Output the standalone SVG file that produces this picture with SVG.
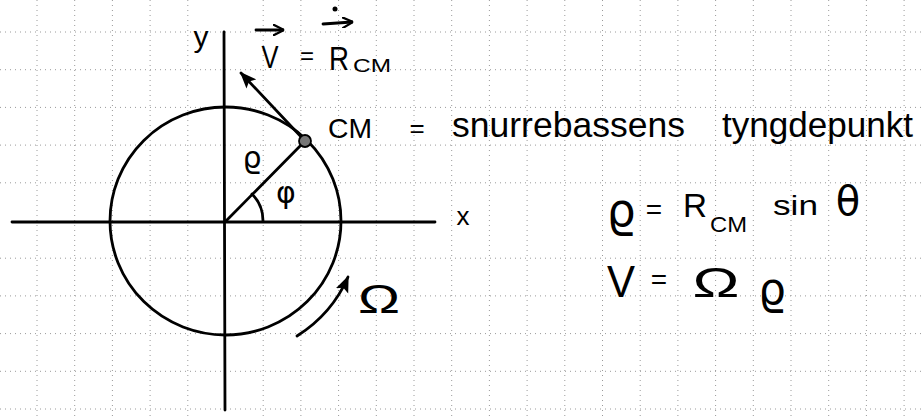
<svg xmlns="http://www.w3.org/2000/svg" width="922" height="416" viewBox="0 0 922 416">
<defs>
<style>
.grid line{stroke:#9a9a9a;stroke-width:1;stroke-dasharray:1 4}
.ln{stroke:#000;stroke-width:2.8;fill:none;stroke-linecap:round}
.t{font-family:"Liberation Sans","DejaVu Sans",sans-serif;fill:#000}
.g{font-family:"DejaVu Sans","Liberation Sans",sans-serif;fill:#000}
</style>
<marker id="ah" viewBox="0 0 10 10" refX="9" refY="5" markerWidth="6" markerHeight="6" orient="auto" markerUnits="strokeWidth">
<path d="M0,1 L10,5 L0,9 L2,5 Z" fill="#000"/>
</marker>
<marker id="sh" viewBox="0 0 10 10" refX="9" refY="5" markerWidth="4" markerHeight="4" orient="auto" markerUnits="strokeWidth">
<path d="M0,0 L10,5 L0,10" fill="none" stroke="#000" stroke-width="2"/>
</marker>
</defs>
<rect width="922" height="416" fill="#fff"/>
<g class="grid">
<line x1="37" y1="0" x2="37" y2="416"/><line x1="74.7" y1="0" x2="74.7" y2="416"/><line x1="112.4" y1="0" x2="112.4" y2="416"/><line x1="150.1" y1="0" x2="150.1" y2="416"/><line x1="187.8" y1="0" x2="187.8" y2="416"/><line x1="263.2" y1="0" x2="263.2" y2="416"/><line x1="300.9" y1="0" x2="300.9" y2="416"/><line x1="338.6" y1="0" x2="338.6" y2="416"/><line x1="376.3" y1="0" x2="376.3" y2="416"/><line x1="414" y1="0" x2="414" y2="416"/><line x1="451.7" y1="0" x2="451.7" y2="416"/><line x1="489.4" y1="0" x2="489.4" y2="416"/><line x1="527.1" y1="0" x2="527.1" y2="416"/><line x1="564.8" y1="0" x2="564.8" y2="416"/><line x1="602.5" y1="0" x2="602.5" y2="416"/><line x1="640.2" y1="0" x2="640.2" y2="416"/><line x1="677.9" y1="0" x2="677.9" y2="416"/><line x1="715.6" y1="0" x2="715.6" y2="416"/><line x1="753.3" y1="0" x2="753.3" y2="416"/><line x1="791" y1="0" x2="791" y2="416"/><line x1="828.7" y1="0" x2="828.7" y2="416"/><line x1="866.4" y1="0" x2="866.4" y2="416"/><line x1="904.1" y1="0" x2="904.1" y2="416"/>
<line x1="0" y1="32" x2="922" y2="32"/><line x1="0" y1="69.7" x2="922" y2="69.7"/><line x1="0" y1="107.4" x2="922" y2="107.4"/><line x1="0" y1="145.1" x2="922" y2="145.1"/><line x1="0" y1="182.8" x2="922" y2="182.8"/><line x1="0" y1="258.2" x2="922" y2="258.2"/><line x1="0" y1="295.9" x2="922" y2="295.9"/><line x1="0" y1="333.6" x2="922" y2="333.6"/><line x1="0" y1="371.3" x2="922" y2="371.3"/><line x1="0" y1="409" x2="922" y2="409"/>
</g>
<g id="axes">
<line class="ln" x1="12" y1="222" x2="435" y2="222"/>
<line class="ln" x1="224" y1="32" x2="225" y2="410"/>
<text class="t" x="463" y="225" font-size="26" text-anchor="middle">x</text>
<text class="t" x="201" y="47" font-size="30" text-anchor="middle">y</text>
</g>
<g id="circle">
<ellipse class="ln" cx="225.5" cy="221" rx="115.5" ry="114"/>
</g>
<g id="connectors">
<line class="ln" x1="226" y1="221" x2="305" y2="141"/>
<path class="ln" d="M252,194 A38,38 0 0 1 263,221" stroke-width="2.5"/>
<line class="ln" x1="305" y1="141" x2="241" y2="73" stroke-width="2.4" marker-end="url(#ah)"/>
<path class="ln" d="M297,336 Q332,314 348,277" marker-end="url(#ah)"/>
</g>
<g id="cm-point">
<circle cx="305" cy="141" r="6" fill="#777" stroke="#000" stroke-width="1.8"/>
</g>
<g id="angle-labels">
<text class="g" x="252" y="168" font-size="30" text-anchor="middle">ϱ</text>
<text class="g" x="286" y="203" font-size="30" text-anchor="middle">φ</text>
</g>
<g id="velocity-label">
<path class="ln" d="M256,30 L283,30" stroke-width="2" marker-end="url(#sh)"/>
<text class="t" x="270" y="68" font-size="32" text-anchor="middle" textLength="17" lengthAdjust="spacingAndGlyphs">V</text>
<text class="t" x="307" y="64" font-size="24" text-anchor="middle">=</text>
<circle cx="335" cy="9" r="2.5" fill="#000"/>
<path class="ln" d="M323,24 L352,22" stroke-width="2" marker-end="url(#sh)"/>
<text class="t" x="329" y="70" font-size="34" textLength="20" lengthAdjust="spacingAndGlyphs">R</text>
<text class="t" x="353" y="72" font-size="19" textLength="38" lengthAdjust="spacingAndGlyphs">CM</text>
</g>
<g id="cm-label">
<text class="t" x="328" y="138" font-size="28" textLength="44" lengthAdjust="spacingAndGlyphs">CM</text>
<text class="t" x="417" y="137" font-size="26" text-anchor="middle">=</text>
<text class="t" x="452" y="137" font-size="35" textLength="233" lengthAdjust="spacingAndGlyphs">snurrebassens</text>
<text class="t" x="722" y="137" font-size="35" textLength="191" lengthAdjust="spacingAndGlyphs">tyngdepunkt</text>
</g>
<g id="omega-label">
<text class="t" x="379" y="313" font-size="40" text-anchor="middle" textLength="42" lengthAdjust="spacingAndGlyphs">Ω</text>
</g>
<g id="eq1">
<text class="g" x="621" y="226" font-size="46" text-anchor="middle">ϱ</text>
<text class="t" x="654" y="219" font-size="28" text-anchor="middle">=</text>
<text class="t" x="683" y="217" font-size="33" textLength="24" lengthAdjust="spacingAndGlyphs">R</text>
<text class="t" x="710" y="232" font-size="22" textLength="37" lengthAdjust="spacingAndGlyphs">CM</text>
<text class="t" x="773" y="215" font-size="28" textLength="45" lengthAdjust="spacingAndGlyphs">sin</text>
<text class="g" x="848" y="215" font-size="40" text-anchor="middle">θ</text>
</g>
<g id="eq2">
<text class="t" x="621" y="297" font-size="44" text-anchor="middle" textLength="28" lengthAdjust="spacingAndGlyphs">V</text>
<text class="t" x="659" y="289" font-size="28" text-anchor="middle">=</text>
<text class="t" x="716" y="297" font-size="42" text-anchor="middle" textLength="47" lengthAdjust="spacingAndGlyphs">Ω</text>
<text class="g" x="772" y="304" font-size="44" text-anchor="middle">ϱ</text>
</g>
</svg>
